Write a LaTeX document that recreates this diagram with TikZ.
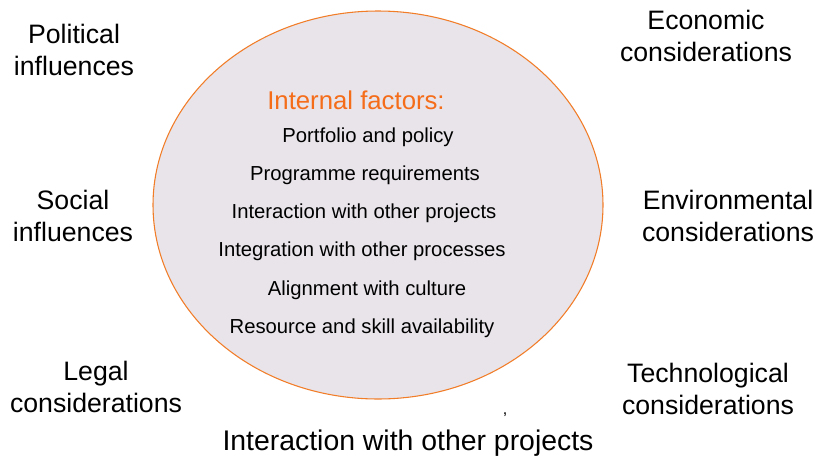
\documentclass[tikz,border=0pt]{standalone}
\usepackage{fontspec}
\setmainfont{Liberation Sans}
\usetikzlibrary{shapes.geometric}
\definecolor{ovalfill}{RGB}{232,228,234}
\definecolor{ovalline}{RGB}{242,125,40}
\definecolor{titleorange}{RGB}{245,108,25}
\tikzset{
  outerlabel/.style={align=center, font=\fontsize{20pt}{24pt}\selectfont},
  factor/.style={anchor=base, font=\fontsize{15.2pt}{18pt}\selectfont},
}
\begin{document}
\begin{tikzpicture}[x=0.75pt, y=-0.75pt]
        \useasboundingbox (0,0) rectangle (818,461);

        % Internal oval
        \node (oval) [ellipse, draw=ovalline, line width=0.8pt, fill=ovalfill,
            minimum width=337.5pt, minimum height=291pt, inner sep=0pt] at (378,205) {};

        \node (title) [anchor=base, text=titleorange, font=\fontsize{19.3pt}{22pt}\selectfont] at (356,109) {Internal factors:};
        \node (portfolio) [factor] at (368,142) {Portfolio and policy};
        \node (programme) [factor] at (365,180) {Programme requirements};
        \node (interaction) [factor] at (364,218) {Interaction with other projects};
        \node (integration) [factor] at (362,256) {Integration with other processes};
        \node (alignment) [factor] at (367,295) {Alignment with culture};
        \node (resource) [factor] at (362,333) {Resource and skill availability};

        % External factors
        \node (political) [outerlabel] at (74,50) {Political\\influences};
        \node (economic) [outerlabel] at (706,36) {Economic\\considerations};
        \node (social) [outerlabel] at (73,216) {Social\\influences};
        \node (environmental) [outerlabel] at (728,216) {Environmental\\considerations};
        \node (legal) [outerlabel] at (96,387) {Legal\\considerations};
        \node (technological) [outerlabel] at (708,389) {Technological\\considerations};

        \node (comma) [font=\fontsize{12pt}{14pt}\selectfont] at (505,415) {,};
        \node (projects) [font=\fontsize{21.3pt}{24pt}\selectfont] at (408,443) {Interaction with other projects};
    \end{tikzpicture}
\end{document}
